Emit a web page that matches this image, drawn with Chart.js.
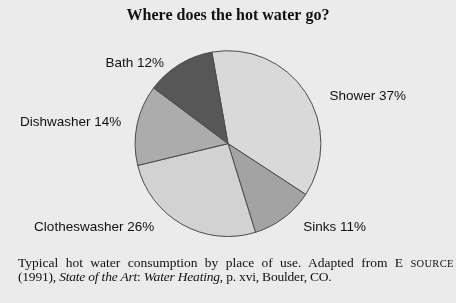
<!DOCTYPE html>
<html>
<head>
<meta charset="utf-8">
<script src="https://cdn.jsdelivr.net/npm/chart.js@4"></script>
<style>
  html, body { margin: 0; padding: 0; background: #ebebeb; }
  #wrap { position: relative; width: 456px; height: 303px; overflow: hidden; }
  #pie { position: absolute; left: 0; top: 0; }
  .cap { position: absolute; left: 18px; font-family: "Liberation Serif", serif; font-size: 13.5px; color: #111; white-space: nowrap; }
  .sc { font-size: 10.5px; letter-spacing: 0.3px; }
</style>
</head>
<body>
<div id="wrap">
  <canvas id="pie" width="456" height="303"></canvas>
  <div class="cap" style="top:255px; word-spacing:4px">Typical hot water consumption by place of use. Adapted from E <span class="sc">SOURCE</span></div>
  <div class="cap" style="top:269px; letter-spacing:-0.2px">(1991), <i>State of the Art</i>: <i>Water Heating</i>, p. xvi, Boulder, CO.</div>
</div>
<script>
// data, clockwise from just left of twelve o'clock
var uses = ['Shower', 'Sinks', 'Clotheswasher', 'Dishwasher', 'Bath'];
var shares = [37, 11, 26, 14, 12];
var greys = ['#d9d9d9', '#a3a3a3', '#d2d2d2', '#acacac', '#575757'];

// small hand nudges so labels sit where the original put them
var labelNudge = {
    Shower: [14, 10],
    Sinks: [12, 0],
    Clotheswasher: [-22, -8],
    Dishwasher: [-4, 0],
    Bath: [-9, 9]
};

var outsideLabels = {
    id: 'outsideLabels',
    afterDatasetsDraw: function(chart) {
        var ctx = chart.ctx;
        var arcs = chart.getDatasetMeta(0).data;
        ctx.save();
        ctx.font = '13.5px "Liberation Sans", Arial, sans-serif';
        ctx.fillStyle = '#111';
        ctx.textBaseline = 'middle';
        arcs.forEach(function(arc, i) {
            var p = arc.getProps(['x', 'y', 'startAngle', 'endAngle', 'outerRadius']);
            var mid = (p.startAngle + p.endAngle) / 2;
            var r = p.outerRadius + 12;
            var tx = p.x + Math.cos(mid) * r;
            var ty = p.y + Math.sin(mid) * r;
            var n = labelNudge[uses[i]] || [0, 0];
            ctx.textAlign = Math.cos(mid) >= 0 ? 'left' : 'right';
            ctx.fillText(uses[i] + ' ' + shares[i] + '%', tx + n[0], ty + n[1]);
        });
        ctx.restore();
    }
};

var pieNode = document.getElementById('pie').getContext('2d');
var pieChart = new Chart(pieNode, {
    type: 'pie',
    data: {
        labels: uses,
        datasets: [{
            data: shares,
            backgroundColor: greys,
            borderColor: '#4a4a4a',
            borderWidth: 1
        }]
    },
    options: {
        responsive: false,
        animation: false,
        rotation: -10,
        layout: {
            padding: { left: 100, right: 100, top: 0, bottom: 66 }
        },
        plugins: {
            legend: { display: false },
            tooltip: { enabled: false },
            title: {
                display: true,
                text: 'Where does the hot water go?',
                color: '#111',
                font: { family: '"Liberation Serif", serif', size: 16, weight: 'bold' },
                padding: { top: 6, bottom: 25 }
            }
        }
    },
    plugins: [outsideLabels]
});
</script>
</body>
</html>
